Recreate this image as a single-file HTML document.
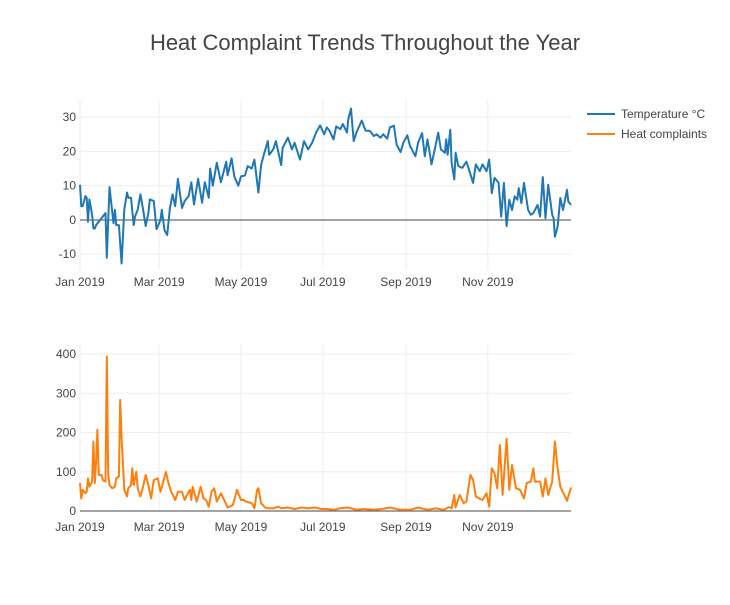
<!DOCTYPE html>
<html><head><meta charset="utf-8">
<style>
body{margin:0;background:#fff;font-family:"Liberation Sans",sans-serif;}
svg text{font-family:"Liberation Sans",sans-serif;}
</style></head>
<body>
<svg id="chart" width="730" height="600" xmlns="http://www.w3.org/2000/svg">
<text x="365" y="50" text-anchor="middle" font-size="22" fill="#444">Heat Complaint Trends Throughout the Year</text>
<g id="top"></g>
<g id="bot"></g>
<g>
<g>
<line x1="587" y1="114" x2="615" y2="114" stroke="#1f77b4" stroke-width="2"/>
<text x="621" y="118" font-size="12" fill="#444">Temperature °C</text></g>
<g>
<line x1="587" y1="134" x2="615" y2="134" stroke="#ff7f0e" stroke-width="2"/>
<text x="621" y="138" font-size="12" fill="#444">Heat complaints</text></g>
</g>
</svg>
<script>
const tempDays=[0,1,2,4,5,6,7,9,10,11,12,15,17,19,20,22,25,26,27,29,31,33,35,36,38,40,41,43,45,47,49,51,52,55,57,60,61,63,65,67,69,71,73,76,78,81,83,85,88,91,93,96,97,99,102,105,109,110,113,115,118,120,123,125,128,130,133,135,137,140,141,144,146,150,151,155,158,160,164,167,170,173,176,179,182,184,186,189,191,194,196,199,200,202,204,206,210,213,216,219,221,224,226,229,231,234,236,239,241,244,246,250,252,255,257,259,262,265,267,269,272,273,274,276,277,279,280,282,285,288,290,293,295,298,300,303,305,307,309,312,314,316,318,320,322,324,326,327,329,331,334,336,338,341,343,345,347,349,352,353,354,356,358,360,363,364,366];
const tempVals=[10.3,4,4,7,6.5,-0.5,6,1.5,-2.5,-2.5,-1.5,0,1,2,-11,9.6,-1,3,-1.5,-1.5,-12.7,3,8,6.5,6.5,-1.5,1,3,7.5,3,-1.8,2,6,5.5,-2.7,0,3,-3,-4.4,3.5,7.5,4,12,3.5,5.5,7,11,4.5,12,5,11,6.5,15,10,16.7,11,17,13,18,12.7,10,12.7,13,15.7,15,17.6,8,16,19,23,19,20.6,23,16,21,24,20.6,22.5,17.6,23,20.6,22.5,25.5,27.6,25,27,26,23.5,27.3,26.5,28,25.5,29.4,32.5,23,25.5,29,26,26,24.5,25,24,25,23.7,27,27.5,22,19.8,22.5,24.7,21.6,18.6,22.5,25.3,18.6,23.5,16.2,21.6,25.5,20.6,19.6,23.5,19,26.3,16.7,11.8,19.6,15.7,15.2,17,14.7,10.8,16.2,14.2,16.2,14.2,17.6,7.8,12.3,10.8,1,10.8,-1.8,5.9,2.9,6.9,5.9,9.3,4.9,10.8,2.9,1.5,2,4.4,1,12.5,0.5,10.3,1.5,0.5,-4.9,-2,6.4,2.9,8.8,5.4,4.4];
const compDays=[0,1,2,4,5,6,7,9,10,11,12,13,14,16,17,19,20,21,22,24,26,27,29,30,31,33,35,36,38,39,40,42,43,45,47,49,51,53,55,58,60,64,66,68,71,73,76,78,81,82,83,84,87,90,92,94,96,98,100,102,105,108,110,114,117,120,122,124,128,130,132,133,135,138,140,144,148,150,155,160,165,170,175,180,184,189,194,200,206,211,219,225,231,239,246,252,259,265,271,275,277,279,280,283,286,288,291,293,295,298,300,303,305,307,309,311,313,315,318,320,322,325,328,331,333,336,338,339,343,345,347,349,352,354,356,358,361,363,366];
const compVals=[71,32,54,45,49,83,62,75,177,71,126,207,92,92,79,75,394,92,66,58,62,83,88,283,186,54,37,58,66,109,66,100,58,37,62,92,66,32,79,83,49,100,71,49,28,49,49,28,49,54,28,62,24,62,32,28,11,49,58,24,45,24,9,15,54,28,28,24,20,7,54,58,20,9,7,7,11,7,9,5,9,7,9,5,5,3,7,9,3,5,3,5,9,3,3,9,3,7,3,10,7,41,9,41,20,24,92,79,37,31,28,45,11,109,96,58,168,41,184,54,117,58,54,32,71,75,109,75,75,37,83,41,75,177,109,62,41,26,60];
const monthLabels=["Jan 2019","Mar 2019","May 2019","Jul 2019","Sep 2019","Nov 2019"];
const monthDays=[0,59,120,181,243,304];
const tempTicks=[-10,0,10,20,30];
const compTicks=[0,100,200,300,400];

const NS="http://www.w3.org/2000/svg";
const X0=80,X1=571,DMAX=366;
const xs=d=>X0+(d/DMAX)*(X1-X0);
function mk(tag,attrs,parent){const e=document.createElementNS(NS,tag);for(const k in attrs)e.setAttribute(k,attrs[k]);parent.appendChild(e);return e;}
function panel(g,top,bottom,ymin,ymax,ticks,days,vals,color,labelY,zeroLine,nm){
  const ys=v=>bottom-(v-ymin)/(ymax-ymin)*(bottom-top);
  monthDays.forEach((d,i)=>{
    const l=mk('line',{x1:xs(d),x2:xs(d),y1:top,y2:bottom,stroke:'#eee','stroke-width':1},g);
    
    
    const t=mk('text',{x:xs(d),y:labelY,'text-anchor':'middle','font-size':12,fill:'#444'},g);
    t.textContent=monthLabels[i];
    
    
  });
  ticks.forEach(v=>{
    if(v!==0||!zeroLine){
      const l=mk('line',{x1:X0,x2:X1,y1:ys(v),y2:ys(v),stroke:'#eee','stroke-width':1},g);
      
      
    }
    const t=mk('text',{x:X0-4,y:ys(v)+4,'text-anchor':'end','font-size':12,fill:'#444'},g);
    t.textContent=v;
    
    
  });
  const z=mk('line',{x1:X0,x2:X1,y1:ys(0),y2:ys(0),stroke:'#444','stroke-width':1},g);
  
  
  const pts=days.map((d,i)=>xs(d).toFixed(1)+','+ys(vals[i]).toFixed(1)).join(' ');
  const p=mk('polyline',{points:pts,fill:'none',stroke:color,'stroke-width':2,'stroke-linejoin':'round'},g);
  
  
}
panel(document.getElementById('top'),100,270,-14.6,35,tempTicks,tempDays,tempVals,'#1f77b4',286,true,'temperature-line');
panel(document.getElementById('bot'),345,511,0,423,compTicks,compDays,compVals,'#ff7f0e',531,true,'complaints-line');
</script>
</body></html>
